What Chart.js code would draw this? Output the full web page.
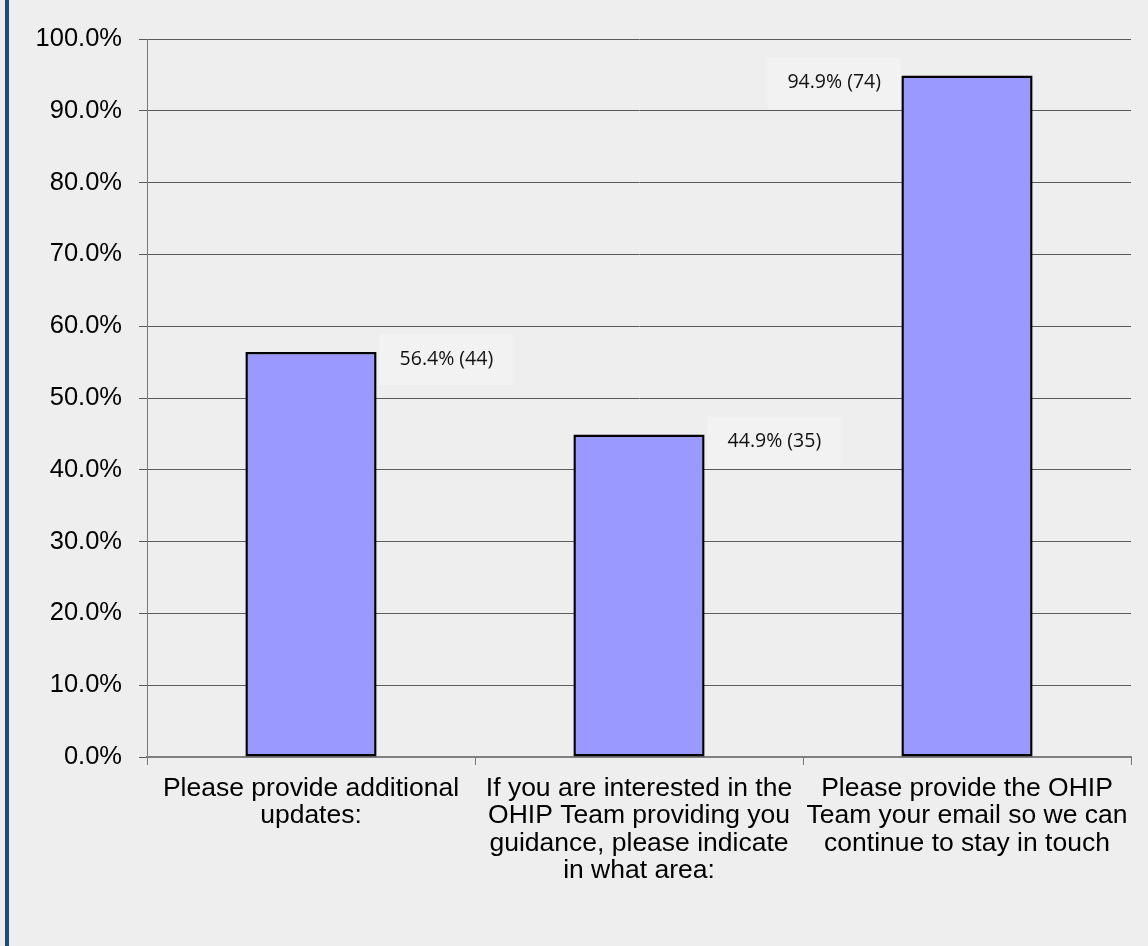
<!DOCTYPE html>
<html>
<head>
<meta charset="utf-8">
<script src="https://cdn.jsdelivr.net/npm/chart.js@4/dist/chart.umd.min.js"></script>
<style>
  html, body { margin: 0; padding: 0; background: #eeeeee; }
  #wrap { position: relative; width: 1148px; height: 946px; }
  #stripe { position: absolute; left: 5px; top: 0; width: 4px; height: 946px; background: #1f4e7e; }
  canvas { position: absolute; left: 0; top: 0; }
</style>
</head>
<body>
<div id="wrap">
  <canvas id="chart" width="1148" height="946"></canvas>
  <div id="stripe"></div>
</div>
<script>
// ================= DATA =================
const categories = [
  ["Please provide additional", "updates:"],
  ["If you are interested in the", "OHIP Team providing you", "guidance, please indicate", "in what area:"],
  ["Please provide the OHIP", "Team your email so we can", "continue to stay in touch"]
];
const percentValues = [56.4, 44.9, 94.9];
const responseCounts = [44, 35, 74];
const yTicks = [0, 10, 20, 30, 40, 50, 60, 70, 80, 90, 100];

// ================= LABEL BOXES =================
// draws "56.4% (44)" in a light box beside each bar
const valueLabels = {
  id: "valueLabels",
  afterDatasetsDraw(chart) {
    const ctx = chart.ctx;
    const area = chart.chartArea;
    const meta = chart.getDatasetMeta(0);
    const boxW = 133, boxH = 51;
    ctx.save();
    ctx.font = "19.5px 'Open Sans'";
    ctx.textBaseline = "middle";
    ctx.textAlign = "left";
    meta.data.forEach((bar, i) => {
      const half = bar.width / 2;
      let left = bar.x + half + 3;
      if (left + boxW > area.right) left = bar.x - half - 1 - boxW;
      const top = bar.y - 18;
      ctx.fillStyle = "#f2f2f2";
      ctx.fillRect(left, top, boxW, boxH);
      ctx.fillStyle = "#111111";
      const text = percentValues[i].toFixed(1) + "% (" + responseCounts[i] + ")";
      ctx.fillText(text, left + 20, top + 25);
    });
    ctx.restore();
  }
};

// ================= CHART =================
new Chart(document.getElementById("chart"), {
  type: "bar",
  data: {
    labels: categories,
    datasets: [{
      data: percentValues,
      backgroundColor: "#9999ff",
      borderColor: "#000000",
      borderWidth: 2.5,
      borderSkipped: false,
      barPercentage: 0.4,
      categoryPercentage: 1
    }]
  },
  options: {
    responsive: false,
    animation: false,
    layout: { padding: { left: 0, right: 17, top: 39, bottom: 0 } },
    plugins: {
      legend: { display: false },
      tooltip: { enabled: false }
    },
    scales: {
      y: {
        min: 0,
        max: 100,
        afterFit: (scale) => { scale.width = 147; },
        afterBuildTicks: (scale) => { scale.ticks = yTicks.map(v => ({ value: v })); },
        ticks: {
          padding: 17,
          color: "#000000",
          font: { family: "'Liberation Sans', Arial, sans-serif", size: 25.5 },
          callback: (v) => v.toFixed(1) + "%"
        },
        grid: { color: "#5a5a5a", lineWidth: 1, tickLength: 8 },
        border: { color: "#777777", width: 1 }
      },
      x: {
        afterFit: (scale) => { scale.height = 946 - 757; },
        ticks: {
          padding: 10,
          color: "#000000",
          font: { family: "'Liberation Sans', Arial, sans-serif", size: 26.5, lineHeight: 1.03 },
          maxRotation: 0,
          autoSkip: false
        },
        grid: { offset: true, drawOnChartArea: false, color: "#777777", tickLength: 8 },
        border: { color: "#808080", width: 2 }
      }
    }
  },
  plugins: [valueLabels]
});
</script>
</body>
</html>
